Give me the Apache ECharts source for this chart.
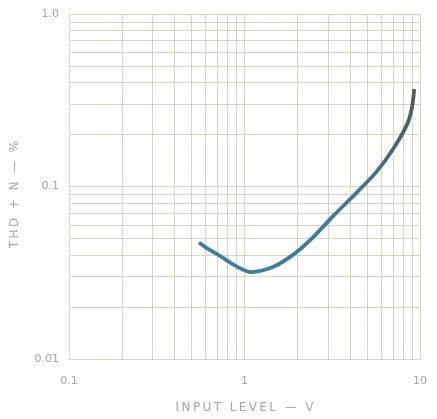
<!DOCTYPE html>
<html>
<head>
<meta charset="utf-8">
<script src="https://cdn.jsdelivr.net/npm/echarts@6/dist/echarts.min.js"></script>
<style>
  html, body { margin: 0; padding: 0; background: #fff; }
  #main { width: 437px; height: 419px; }
</style>
</head>
<body>
<div id="main"></div>
<script>
// input level (V) vs THD+N (%)
var inputV = [0.55, 0.63, 0.72, 0.88, 1.09, 1.45, 1.88, 2.35, 3.27, 4.34, 5.66, 7.03, 8.39, 8.97, 9.27];
var thdN = [0.0474, 0.043, 0.0398, 0.0349, 0.0319, 0.0341, 0.040, 0.0485, 0.0689, 0.0918, 0.122, 0.165, 0.226, 0.282, 0.367];

var xGrid = [0.1, 0.2, 0.3, 0.4, 0.5, 0.6, 0.7, 0.8, 0.9, 1, 2, 3, 4, 5, 6, 7, 8, 9, 10];
var yGrid = [0.01, 0.02, 0.03, 0.04, 0.05, 0.06, 0.07, 0.08, 0.09, 0.1, 0.2, 0.3, 0.4, 0.5, 0.6, 0.7, 0.8, 0.9, 1];
var xLabels = [0.1, 1, 10];
var yLabels = [0.01, 0.1, 1];

// wide tracking like the printed lettering
function spaced(s) {
    return s.split('').join('\u2009');
}

var chart = echarts.init(document.getElementById('main'));

var gridColor = '#d4d4bf';
var textColor = '#a5a59e';

var points = inputV.map(function(v, i) { return [v, thdN[i]]; });

var option = {
    backgroundColor: '#fff',
    animation: false,
    grid: { left: 69, right: 17, top: 14, bottom: 56 },
    xAxis: {
        type: 'log',
        logBase: 10,
        min: 0.1,
        max: 10,
        name: spaced('INPUT LEVEL — V'),
        nameLocation: 'middle',
        nameGap: 43,
        nameTextStyle: { color: textColor, fontSize: 12, fontFamily: 'DejaVu Sans' },
        axisLine: { lineStyle: { color: gridColor, width: 1 } },
        axisTick: { show: false, customValues: xGrid },
        axisLabel: {
            customValues: xLabels,
            color: textColor,
            fontSize: 11,
            fontFamily: 'DejaVu Sans',
            margin: 17,
            formatter: function(v) { return String(v); }
        },
        splitLine: { show: true, lineStyle: { color: gridColor, width: 1 } }
    },
    yAxis: {
        type: 'log',
        logBase: 10,
        min: 0.01,
        max: 1,
        name: spaced('THD + N — %'),
        nameLocation: 'middle',
        nameGap: 48,
        nameRotate: 90,
        nameTextStyle: { color: textColor, fontSize: 12, fontFamily: 'DejaVu Sans', padding: [0, 16, 0, 0] },
        axisLine: { show: true, lineStyle: { color: gridColor, width: 1 } },
        axisTick: { show: false, customValues: yGrid },
        axisLabel: {
            customValues: yLabels,
            color: textColor,
            fontSize: 11,
            fontFamily: 'DejaVu Sans',
            margin: 10,
            formatter: function(v) { return v == 1 ? '1.0' : String(v); }
        },
        splitLine: { show: true, lineStyle: { color: gridColor, width: 1 } }
    },
    series: [{
        type: 'line',
        data: points,
        smooth: 0.3,
        showSymbol: false,
        lineStyle: {
            width: 3.8,
            color: {
                type: 'linear', x: 0, y: 0, x2: 1, y2: 0,
                colorStops: [
                    { offset: 0, color: '#3a7fa3' },
                    { offset: 0.7, color: '#3d7a98' },
                    { offset: 1, color: '#4f5d60' }
                ]
            }
        }
    }]
};

chart.setOption(option);
</script>
</body>
</html>
